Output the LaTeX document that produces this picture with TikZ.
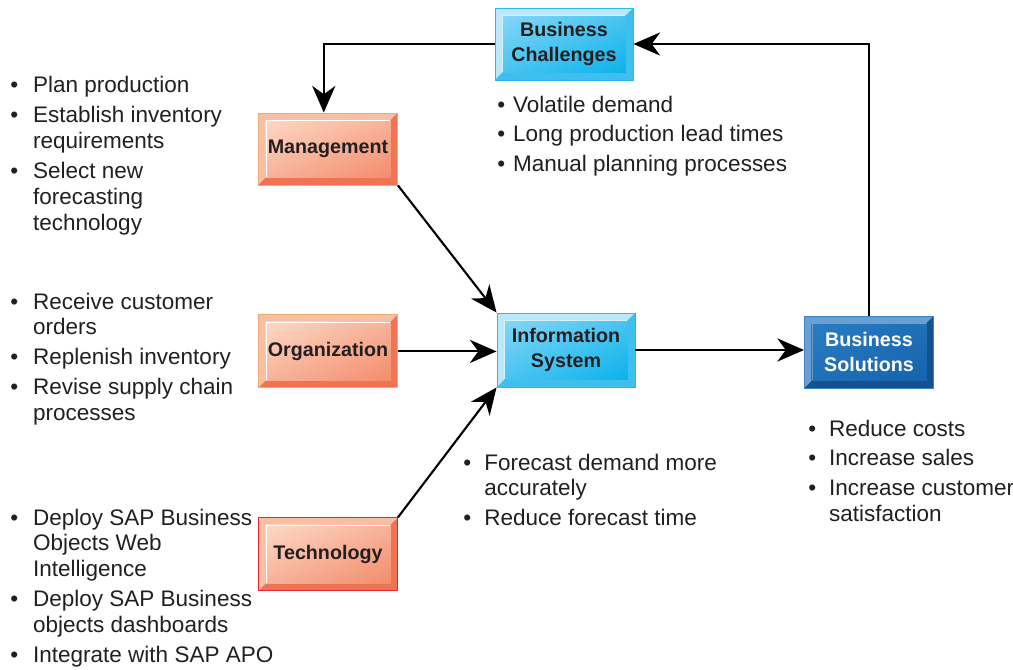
\documentclass[tikz,border=0pt]{standalone}
\usepackage{fontspec}
\setmainfont{Liberation Sans}
\usetikzlibrary{arrows.meta,positioning,shadings}
\definecolor{txtgray}{HTML}{231F20}
\definecolor{cyanlight}{HTML}{86D6F6}
\definecolor{cyandark}{HTML}{0AB2EC}
\definecolor{cyanedge}{HTML}{2CB6E9}
\definecolor{cyanbevtop}{HTML}{B9E9FB}
\definecolor{cyanbevbot}{HTML}{3FBFEC}
\definecolor{orlight}{HTML}{FDD8C6}
\definecolor{ordark}{HTML}{F38C6C}
\definecolor{oredge}{HTML}{F2A870}
\definecolor{orbevtop}{HTML}{F9BFA3}
\definecolor{orbevbot}{HTML}{F07454}
\definecolor{techedge}{HTML}{E8262B}
\definecolor{bluelight}{HTML}{2A7CC2}
\definecolor{bluedark}{HTML}{1563AE}
\definecolor{blueedge}{HTML}{3A84C6}
\definecolor{bluebevtop}{HTML}{6A9FD4}
\definecolor{bluebevbot}{HTML}{14528F}
\newcommand{\bu}{\textbullet &}
\newcommand{\blist}[2]{\begin{tabular}[t]{@{}p{#1}@{}l@{}}#2\end{tabular}}
\tikzset{bevelbox/.style n args={6}{rectangle, draw=#3, line width=0.6pt,
    font=\fontsize{14}{17.7}\selectfont\bfseries, align=center, inner sep=0pt, text=txtgray,
    path picture={
      \path (path picture bounding box.south west) coordinate (bbsw)
            (path picture bounding box.north east) coordinate (bbne);
      \fill[#4] (bbsw) rectangle (bbne);
      \fill[#5] (bbsw) -- (bbne |- bbsw) -- (bbne) -- ([shift={(-5pt,-5pt)}]bbne)
            -- ([shift={(-5pt,5pt)}]bbne |- bbsw) -- ([shift={(5pt,5pt)}]bbsw) -- cycle;
      \shade[upper left=#1, lower right=#2, upper right=#1!50!#2, lower left=#1!50!#2]
            ([shift={(5pt,5pt)}]bbsw) rectangle ([shift={(-5pt,-5pt)}]bbne);
      \draw[#6, line width=0.7pt] ([shift={(5.4pt,5.4pt)}]bbsw) |- ([shift={(-5.4pt,-5.4pt)}]bbne);
    }}}

\begin{document}
\begin{tikzpicture}[x=0.025cm, y=-0.025cm]
  \tikzstyle{arrow} = [-{Stealth[length=19pt, width=16.5pt, inset=6pt]}, line width=1.5pt, draw=black]
  \tikzstyle{blist} = [anchor=base west, inner sep=0pt, text=txtgray, font=\fontsize{16}{18.4}\selectfont]
  \useasboundingbox (0,0) rectangle (1013,670);

  % boxes
  \node[bevelbox={cyanlight}{cyandark}{cyanedge}{cyanbevtop}{cyanbevbot}{cyanbevtop!60!white},
        minimum width=3.45cm, minimum height=1.8cm] (chal) at (564,44) {Business\\Challenges};
  \node[bevelbox={orlight}{ordark}{oredge}{orbevtop}{orbevbot}{white},
        minimum width=3.475cm, minimum height=1.8cm] (mgmt) at (328,149) {Management};
  \node[bevelbox={orlight}{ordark}{oredge}{orbevtop}{orbevbot}{white},
        minimum width=3.475cm, minimum height=1.825cm, below=3.225cm of mgmt] (org) {Organization};
  \node[bevelbox={orlight}{ordark}{techedge}{orbevtop}{orbevbot}{white},
        minimum width=3.475cm, minimum height=1.825cm, below=3.225cm of org] (tech) {Technology};
  \node[bevelbox={cyanlight}{cyandark}{cyanedge}{cyanbevtop}{cyanbevbot}{cyanbevtop!60!white},
        minimum width=3.45cm, minimum height=1.85cm] (info) at (566,350) {Information\\System};
  \node[bevelbox={bluelight}{bluedark}{blueedge}{bluebevtop}{bluebevbot}{bluebevtop}, text=white,
        minimum width=3.225cm, minimum height=1.8cm] (sol) at (869,352) {Business\\Solutions};

  % connectors
  \draw[arrow] (sol.north) |- (chal.east);
  \draw[arrow] (chal.west) -| ([xshift=-3pt]mgmt.north);
  \draw[arrow] (mgmt.south east) -- (info.north west);
  \draw[arrow] (org.east) -- (org.east -| info.west);
  \draw[arrow] (tech.north east) -- (info.south west);
  \draw[arrow] (info.east) -- (info.east -| sol.west);

  % bullet lists
  \node[blist] (mgmtlist) at (10,93) {\blist{16.3pt}{%
    \bu Plan production\\[2.9pt]
    \bu Establish inventory\\ & requirements\\[2.9pt]
    \bu Select new\\ & forecasting\\ & technology}};
  \node[blist] (orglist) at (10,309) {\blist{16.3pt}{%
    \bu Receive customer\\ & orders\\[2.9pt]
    \bu Replenish inventory\\[2.9pt]
    \bu Revise supply chain\\ & processes}};
  \node[blist] (techlist) at (10,525) {\blist{16.3pt}{%
    \bu Deploy SAP Business\\ & Objects Web\\ & Intelligence\\[2.9pt]
    \bu Deploy SAP Business\\ & objects dashboards\\[2.9pt]
    \bu Integrate with SAP APO}};
  \node[blist] (challist) at (497,112) {\blist{11.3pt}{%
    \bu Volatile demand\\[2.9pt]
    \bu Long production lead times\\[2.9pt]
    \bu Manual planning processes}};
  \node[blist] (infolist) at (463,470) {\blist{15pt}{%
    \bu Forecast demand more\\ & accurately\\[2.9pt]
    \bu Reduce forecast time}};
  \node[blist] (sollist) at (808,436) {\blist{14.8pt}{%
    \bu Reduce costs\\[2.9pt]
    \bu Increase sales\\[2.9pt]
    \bu Increase customer\\ & satisfaction}};
\end{tikzpicture}
\end{document}
